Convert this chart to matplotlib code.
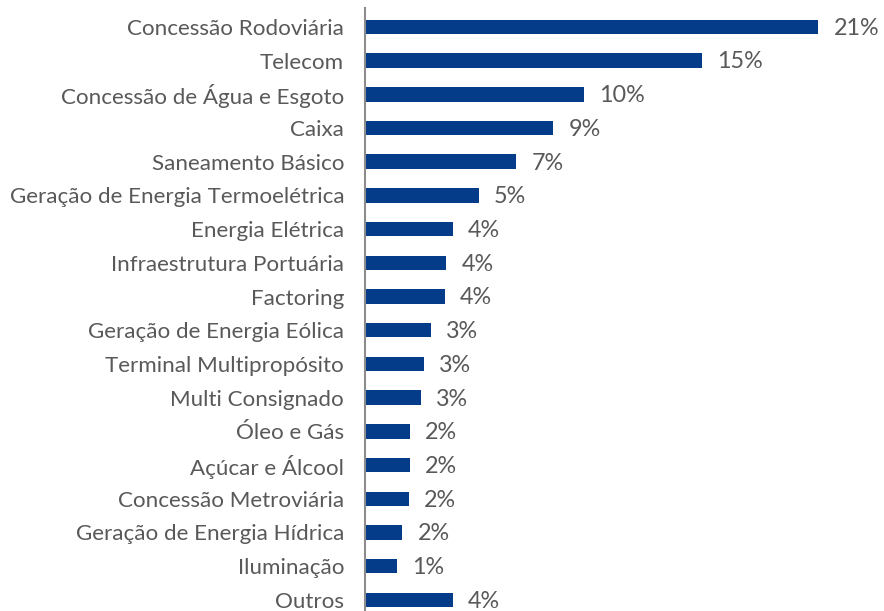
import matplotlib.pyplot as plt

# portfolio share by sector (%)
sectors = ['Concessão Rodoviária', 'Telecom', 'Concessão de Água e Esgoto', 'Caixa',
           'Saneamento Básico', 'Geração de Energia Termoelétrica', 'Energia Elétrica',
           'Infraestrutura Portuária', 'Factoring', 'Geração de Energia Eólica',
           'Terminal Multipropósito', 'Multi Consignado', 'Óleo e Gás', 'Açúcar e Álcool',
           'Concessão Metroviária', 'Geração de Energia Hídrica', 'Iluminação', 'Outros']
shares = [20.7, 15.4, 10.0, 8.6, 6.9, 5.2, 4.0, 3.7, 3.65, 3.0, 2.7, 2.55, 2.05, 2.05,
          2.0, 1.7, 1.45, 4.0]

bar_color = '#053c8a'
text_color = '#595959'

plt.rcParams['font.family'] = ['Lato', 'DejaVu Sans']

W, H = 884, 611
fig = plt.figure(figsize=(W / 100, H / 100), dpi=100)
ax = fig.add_axes([365 / W, 0, (W - 365) / W, 603 / H])

ypos = list(range(len(sectors)))
ax.barh(ypos, shares, height=0.43, color=bar_color)

for y, v in zip(ypos, shares):
    ax.annotate(f'{v:.0f}%', (v, y), xytext=(11, -1), textcoords='offset points',
                va='center', ha='left', fontsize=16.8, color=text_color)

ax.set_yticks(ypos)
ax.set_yticklabels(sectors, fontsize=16.1, color=text_color)
ax.tick_params(axis='y', length=0, pad=15)
ax.set_xticks([])
ax.set_xlim(0, (W - 365) / 21.9)
ax.set_ylim(17.33, -0.56)

for side in ['top', 'right', 'bottom']:
    ax.spines[side].set_visible(False)
ax.spines['left'].set_color('#8c8c8c')
ax.spines['left'].set_linewidth(1.5)

fig.savefig('out.png', dpi=100)
